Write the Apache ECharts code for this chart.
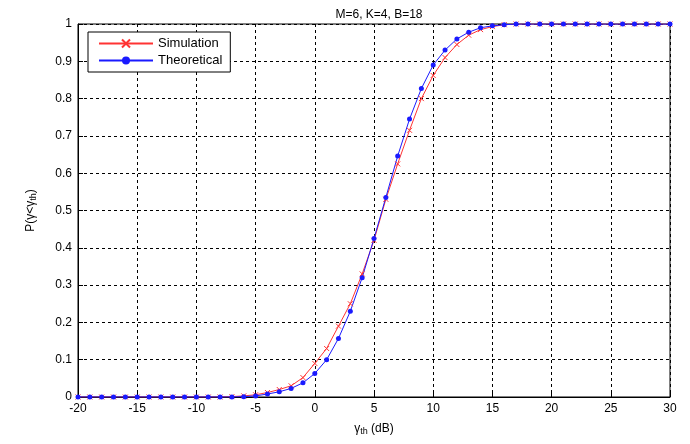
<!DOCTYPE html>
<html><head><meta charset="utf-8">
<script src="https://cdn.jsdelivr.net/npm/echarts@6/dist/echarts.min.js"></script>
<style>html,body{margin:0;padding:0;background:#fff}#c{width:690px;height:444px}</style>
</head><body><div id="c"></div>
<script>
var xs = [];
for (var i = -20; i <= 30; i++) xs.push(i);
// values at -20..30 dB (1 dB steps)
var simulation = [0,0,0,0,0,0,0,0,0,0,0,0,0,0.001,0.003,
  0.006,0.012,0.02,0.03,0.052,0.09,0.13,0.19,0.25,0.33,0.42,0.53,0.625,0.715,0.80,0.862,0.91,0.945,0.97,0.985,0.993,0.998,
  1,1,1,1,1,1,1,1,1,1,1,1,1,1];
var theoretical = [0,0,0,0,0,0,0,0,0,0,0,0,0,0,0.001,
  0.003,0.008,0.014,0.023,0.038,0.063,0.10,0.157,0.23,0.32,0.425,0.535,0.646,0.745,0.827,0.89,0.93,0.96,0.978,0.99,0.995,0.998,
  1,1,1,1,1,1,1,1,1,1,1,1,1,1];

function pairs(v) { return xs.map(function (x, i) { return [x, v[i]]; }); }

var chart = echarts.init(document.getElementById('c'));
var font = 'Liberation Sans, Arial, sans-serif';
var gridLine = { show: true, lineStyle: { color: '#000', type: [3, 3], width: 1 } };
chart.setOption({
  animation: false,
  textStyle: { fontFamily: font },
  title: {
    text: 'M=6, K=4, B=18', left: 374, top: 4, textAlign: 'center',
    textStyle: { fontSize: 12, fontWeight: 'normal', color: '#000' }
  },
  grid: { left: 78, right: 20, top: 24, bottom: 47, show: true, borderColor: '#000', borderWidth: 1 },
  legend: {
    left: 88, top: 32, orient: 'vertical', itemGap: 4, itemWidth: 54, itemHeight: 10,
    backgroundColor: '#fff', borderColor: '#000', borderWidth: 1, padding: [5, 8, 5, 10],
    textStyle: { fontSize: 13, color: '#000' },
    data: ['Simulation', 'Theoretical']
  },
  xAxis: {
    type: 'value', min: -20, max: 30, interval: 5,
    axisLine: { onZero: false, lineStyle: { color: '#000' } },
    axisTick: { inside: true, length: 5, lineStyle: { color: '#000' } },
    axisLabel: { color: '#000', fontSize: 12, margin: 6 },
    splitLine: gridLine,
    name: '{g|γ}{s|th}{g| (dB)}', nameLocation: 'middle', nameGap: 24,
    nameTextStyle: { rich: { g: { fontSize: 12, color: '#000' }, s: { fontSize: 9, color: '#000', verticalAlign: 'bottom', padding: [6, 0, 0, 0] } } }
  },
  yAxis: {
    type: 'value', min: 0, max: 1, interval: 0.1,
    axisLine: { onZero: false, lineStyle: { color: '#000' } },
    axisTick: { inside: true, length: 5, lineStyle: { color: '#000' } },
    axisLabel: { color: '#000', fontSize: 12, margin: 6 },
    splitLine: gridLine,
    name: '{g|P(γ<γ}{s|th}{g|)}', nameLocation: 'middle', nameGap: 40,
    nameTextStyle: { rich: { g: { fontSize: 12, color: '#000' }, s: { fontSize: 9, color: '#000', padding: [6, 0, 0, 0] } } }
  },
  series: [
    { name: 'Simulation', type: 'line', data: pairs(simulation), color: '#ff3333',
      symbol: 'path://M0,0L10,10M10,0L0,10', symbolSize: 5, showAllSymbol: true,
      itemStyle: { color: 'none', borderColor: '#ff3333', borderWidth: 1 },
      lineStyle: { width: 1, color: '#ff3333' } },
    { name: 'Theoretical', type: 'line', data: pairs(theoretical), color: '#1a1aff',
      symbol: 'circle', symbolSize: 5, showAllSymbol: true,
      itemStyle: { color: '#1a1aff' },
      lineStyle: { width: 1, color: '#1a1aff' } }
  ]
});
</script></body></html>
